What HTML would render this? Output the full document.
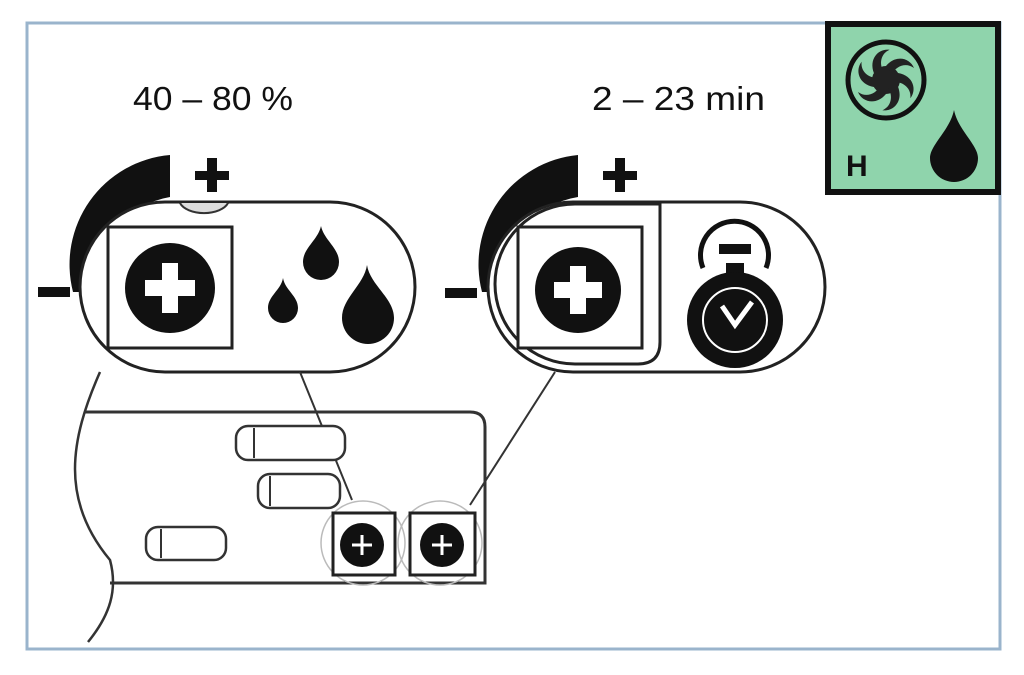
<!DOCTYPE html>
<html><head><meta charset="utf-8"><style>
html,body{margin:0;padding:0;background:#fff;}
svg{display:block;}
</style></head><body>
<svg width="1024" height="675" viewBox="0 0 1024 675" xmlns="http://www.w3.org/2000/svg">
<rect x="0" y="0" width="1024" height="675" fill="#fff"/>
<rect x="27" y="23" width="973" height="626" fill="none" stroke="#9ab4cc" stroke-width="3"/>
<!-- green box -->
<rect x="828" y="24" width="170" height="168" fill="#8fd4ac" stroke="#111" stroke-width="6"/>
<circle cx="886" cy="80" r="38" fill="none" stroke="#111" stroke-width="5"/>
<g fill="#222" transform="translate(886,80)">
<circle r="14"/>
<g id="bl"><path d="M0,-14 C10,-26 24,-22 28,-12 C20,-18 10,-14 6,-6 Z"/></g>
<use href="#bl" transform="rotate(60)"/><use href="#bl" transform="rotate(120)"/><use href="#bl" transform="rotate(180)"/><use href="#bl" transform="rotate(240)"/><use href="#bl" transform="rotate(300)"/>
</g>
<text x="846" y="176" font-family="Liberation Sans, sans-serif" font-size="30" font-weight="bold" fill="#111">H</text>
<path d="M954,110 C950,130 930,145 930,158 A24,24 0 0 0 978,158 C978,145 958,130 954,110 Z" fill="#111"/>
<!-- labels -->
<text x="133" y="110" font-family="Liberation Sans, sans-serif" font-size="33" fill="#111" textLength="160" lengthAdjust="spacingAndGlyphs">40 – 80 %</text>
<text x="592" y="110" font-family="Liberation Sans, sans-serif" font-size="33" fill="#111" textLength="173" lengthAdjust="spacingAndGlyphs">2 – 23 min</text>
<!-- left pill -->
<path d="M170,155 A110,110 0 0 0 73,292 L95,292 A90,90 0 0 1 170,197 Z" fill="#111"/>
<rect x="80" y="202" width="335" height="170" rx="85" fill="#fff" stroke="#222" stroke-width="3"/>
<path d="M180,203 A25,14 0 0 0 228,203" fill="#ddd" stroke="#333" stroke-width="2"/>
<rect x="195" y="171" width="34" height="9" fill="#111"/><rect x="207" y="158" width="10" height="34" fill="#111"/>
<rect x="38" y="287" width="32" height="10" fill="#111"/>
<rect x="108" y="227" width="124" height="121" fill="#fff" stroke="#222" stroke-width="3"/>
<circle cx="170" cy="288" r="45" fill="#111"/>
<rect x="145" y="280" width="50" height="16" fill="#fff"/><rect x="162" y="263" width="16" height="50" fill="#fff"/>
<path d="M321,226 C318,240 303,248 303,262 A18,18 0 0 0 339,262 C339,248 324,240 321,226Z" fill="#111"/>
<path d="M283,278 C281,290 268,296 268,308 A15,15 0 0 0 298,308 C298,296 285,290 283,278Z" fill="#111"/>
<path d="M367,265 C364,285 342,298 342,318 A26,26 0 0 0 394,318 C394,298 370,285 367,265Z" fill="#111"/>
<!-- right pill -->
<path d="M578,155 A110,110 0 0 0 482,292 L502,292 A90,90 0 0 1 578,197 Z" fill="#111"/>
<rect x="488" y="202" width="337" height="170" rx="85" fill="#fff" stroke="#222" stroke-width="3"/>
<path d="M660,204 L660,342 Q660,364 638,364 L575,364 A80,80 0 0 1 575,204 Z" fill="none" stroke="#222" stroke-width="3"/>
<rect x="603" y="171" width="34" height="9" fill="#111"/><rect x="615" y="158" width="10" height="34" fill="#111"/>
<rect x="445" y="288" width="32" height="10" fill="#111"/>
<rect x="518" y="227" width="124" height="121" fill="#fff" stroke="#222" stroke-width="3"/>
<circle cx="578" cy="290" r="43" fill="#111"/>
<rect x="554" y="282" width="48" height="16" fill="#fff"/><rect x="570" y="266" width="16" height="48" fill="#fff"/>
<path d="M703,268 A34,34 0 1 1 766,268" fill="none" stroke="#111" stroke-width="5"/>
<rect x="719" y="244" width="32" height="10" fill="#111"/>
<rect x="726" y="263" width="18" height="12" fill="#111"/>
<circle cx="735" cy="320" r="48" fill="#111"/>
<circle cx="735" cy="320" r="32" fill="none" stroke="#fff" stroke-width="2"/>
<path d="M722,306 L735,325 L752,302" fill="none" stroke="#fff" stroke-width="5"/>
<!-- connector lines -->
<line x1="300" y1="372" x2="352" y2="500" stroke="#333" stroke-width="2"/>
<line x1="555" y1="372" x2="470" y2="505" stroke="#333" stroke-width="2"/>
<!-- bottom device -->
<path d="M100,372 C70,440 60,500 110,560 C118,590 110,615 88,642" fill="none" stroke="#333" stroke-width="2.5"/>
<path d="M85,412 L470,412 Q485,412 485,427 L485,583 L110,583" fill="none" stroke="#333" stroke-width="3"/>
<rect x="236" y="426" width="109" height="34" rx="12" fill="#fff" stroke="#333" stroke-width="2.5"/>
<line x1="254" y1="428" x2="254" y2="458" stroke="#333" stroke-width="2"/>
<rect x="258" y="474" width="82" height="34" rx="12" fill="#fff" stroke="#333" stroke-width="2.5"/>
<line x1="270" y1="476" x2="270" y2="506" stroke="#333" stroke-width="2"/>
<rect x="146" y="527" width="80" height="33" rx="12" fill="#fff" stroke="#333" stroke-width="2.5"/>
<line x1="161" y1="529" x2="161" y2="558" stroke="#333" stroke-width="2"/>
<circle cx="363" cy="543" r="42" fill="none" stroke="#bbb" stroke-width="1.5"/>
<circle cx="440" cy="543" r="42" fill="none" stroke="#bbb" stroke-width="1.5"/>
<rect x="333" y="513" width="62" height="62" fill="#fff" stroke="#222" stroke-width="3"/>
<rect x="410" y="513" width="65" height="62" fill="#fff" stroke="#222" stroke-width="3"/>
<circle cx="362" cy="545" r="22" fill="#111"/>
<path d="M352,545 H372 M362,535 V555" stroke="#fff" stroke-width="3"/>
<circle cx="442" cy="545" r="22" fill="#111"/>
<path d="M432,545 H452 M442,535 V555" stroke="#fff" stroke-width="3"/>
</svg>
</body></html>
